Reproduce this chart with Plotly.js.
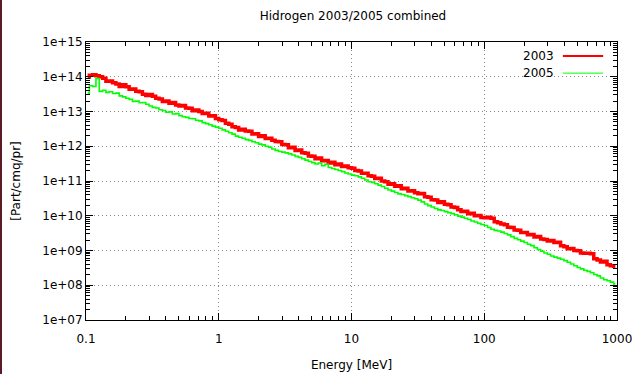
<!DOCTYPE html>
<html>
<head>
<meta charset="utf-8">
<script src="https://cdn.plot.ly/plotly-3.0.1.min.js"></script>
<style>
  html, body { margin: 0; padding: 0; background: #fff; }
  #chart { width: 636px; height: 374px; }
  #edge { position: absolute; left: 0; top: 0; width: 2px; height: 374px; background: #5a1a26; z-index: 10; }
</style>
</head>
<body>
<div id="edge"></div>
<div id="chart"></div>
<script>
// Energy bins: decade starts x per-bin multipliers (bin centres, 40 bins per decade)
const decades = [0.1, 1, 10, 100];
const binMult = [1.0292, 1.0902, 1.1548, 1.2232, 1.2957, 1.3725, 1.4538, 1.5399, 1.6312, 1.7278,
                 1.8302, 1.9387, 2.0535, 2.1752, 2.3041, 2.4406, 2.5852, 2.7384, 2.9007, 3.0726,
                 3.2546, 3.4475, 3.6517, 3.8681, 4.0973, 4.3401, 4.5973, 4.8697, 5.1582, 5.4639,
                 5.7876, 6.1306, 6.4938, 6.8786, 7.2862, 7.7179, 8.1752, 8.6596, 9.1728, 9.7163];

// log10 of flux [Part/cmq/pr]
const log2003 = [
 13.99, 14.04, 14.06, 14.03, 14.00, 13.96, 13.87, 13.88, 13.83, 13.79,
 13.72, 13.77, 13.71, 13.64, 13.65, 13.58, 13.57, 13.50, 13.46, 13.49,
 13.44, 13.38, 13.36, 13.29, 13.30, 13.24, 13.26, 13.19, 13.16, 13.17,
 13.10, 13.09, 13.02, 13.04, 13.00, 12.94, 12.95, 12.87, 12.88, 12.80,
 12.76, 12.74, 12.66, 12.63, 12.56, 12.54, 12.47, 12.49, 12.44, 12.43,
 12.35, 12.36, 12.28, 12.30, 12.22, 12.23, 12.17, 12.14, 12.13, 12.05,
 12.04, 11.96, 11.97, 11.88, 11.89, 11.81, 11.80, 11.72, 11.71, 11.64,
 11.66, 11.58, 11.59, 11.52, 11.54, 11.47, 11.49, 11.42, 11.43, 11.38,
 11.37, 11.30, 11.29, 11.22, 11.22, 11.15, 11.14, 11.07, 11.08, 11.00,
 10.98, 10.91, 10.92, 10.85, 10.86, 10.78, 10.79, 10.71, 10.72, 10.66,
 10.63, 10.64, 10.55, 10.53, 10.46, 10.45, 10.38, 10.40, 10.33, 10.32,
 10.25, 10.24, 10.17, 10.12, 10.13, 10.06, 10.07, 10.00, 10.01,  9.95,
  9.94,  9.96,  9.93,  9.83,  9.80,  9.76,  9.74,  9.67,  9.66,  9.59,
  9.58,  9.52,  9.52,  9.45,  9.46,  9.39,  9.40,  9.33,  9.32,  9.27,
  9.29,  9.23,  9.24,  9.14,  9.11,  9.05,  9.06,  9.00,  8.99,  8.93,
  8.92,  8.92,  8.91,  8.76,  8.73,  8.67,  8.69,  8.59,  8.56,  8.55
];
const log2005 = [
 13.53, 13.74, 13.72, 13.95, 13.58, 13.61, 13.55, 13.57, 13.52, 13.53,
 13.45, 13.42, 13.38, 13.35, 13.29, 13.30, 13.25, 13.26, 13.21, 13.16,
 13.12, 13.10, 13.05, 13.03, 12.98, 12.99, 12.93, 12.94, 12.88, 12.85,
 12.83, 12.80, 12.79, 12.75, 12.73, 12.68, 12.65, 12.62, 12.58, 12.55,
 12.52, 12.47, 12.43, 12.39, 12.35, 12.29, 12.26, 12.23, 12.19, 12.17,
 12.13, 12.10, 12.06, 12.04, 12.00, 11.97, 11.92, 11.88, 11.85, 11.83,
 11.81, 11.78, 11.75, 11.71, 11.68, 11.64, 11.60, 11.56, 11.53, 11.49,
 11.52, 11.44, 11.48, 11.39, 11.36, 11.33, 11.30, 11.27, 11.23, 11.20,
 11.17, 11.15, 11.12, 11.08, 11.03, 10.98, 10.96, 10.92, 10.88, 10.84,
 10.79, 10.74, 10.71, 10.67, 10.63, 10.61, 10.58, 10.55, 10.52, 10.49,
 10.45, 10.40, 10.34, 10.29, 10.25, 10.21, 10.17, 10.15, 10.12, 10.09,
 10.06, 10.03,  9.99,  9.96,  9.93,  9.89,  9.85,  9.82,  9.78,  9.75,
  9.72,  9.66,  9.61,  9.58,  9.56,  9.53,  9.49,  9.45,  9.40,  9.35,
  9.31,  9.27,  9.23,  9.18,  9.14,  9.08,  9.03,  8.98,  8.93,  8.89,
  8.84,  8.81,  8.78,  8.75,  8.71,  8.66,  8.61,  8.56,  8.51,  8.47,
  8.43,  8.40,  8.36,  8.31,  8.27,  8.21,  8.16,  8.13,  8.09,  8.04
];

const seriesNames = ['2003', '2005'];
const seriesColors = ['#ff0000', '#00ff00'];

const xTickVals = [0.1, 1, 10, 100, 1000];
const xTickText = ['0.1', '1', '10', '100', '1000'];
const yTickExp = [7, 8, 9, 10, 11, 12, 13, 14, 15];
const yTickText = ['1e+07', '1e+08', '1e+09', '1e+10', '1e+11', '1e+12', '1e+13', '1e+14', '1e+15'];
const minorMult = [2, 3, 4, 5, 6, 7, 8, 9];

const energy = [];
decades.forEach(d => binMult.forEach(m => energy.push(+(d * m).toPrecision(5))));
const y2003 = log2003.map(v => Math.pow(10, v));
const y2005 = log2005.map(v => Math.pow(10, v));

const yTickVals = yTickExp.map(e => Math.pow(10, e));
const xMinor = [];
decades.forEach(d => minorMult.forEach(m => xMinor.push(d * m)));
const yMinor = [];
yTickExp.slice(0, -1).forEach(e => minorMult.forEach(m => yMinor.push(m * Math.pow(10, e))));

const font = { family: 'DejaVu Sans, sans-serif', size: 12, color: '#000' };

const traces = [
  { x: energy, y: y2003, type: 'scatter', mode: 'lines', name: seriesNames[0],
    line: { color: seriesColors[0], width: 3.5, shape: 'hvh' } },
  { x: energy, y: y2005, type: 'scatter', mode: 'lines', name: seriesNames[1],
    line: { color: seriesColors[1], width: 1.6, shape: 'hvh' } }
];

const axisCommon = {
  showline: true, linecolor: '#000', linewidth: 1, mirror: 'ticks',
  ticks: 'inside', ticklen: 7, tickcolor: '#000', tickwidth: 1,
  showgrid: true, gridcolor: '#888888', gridwidth: 1, griddash: '1px,3px',
  zeroline: false, tickfont: font
};

const layout = {
  width: 636, height: 374,
  margin: { l: 86, r: 19, t: 42, b: 54 },
  paper_bgcolor: '#fff', plot_bgcolor: '#fff',
  showlegend: false,
  font: font,
  title: { text: 'Hidrogen 2003/2005 combined', font: font, x: 0.555, xanchor: 'center', y: 0.957, yanchor: 'middle' },
  xaxis: Object.assign({}, axisCommon, {
    type: 'log', range: [-1, 3], tickmode: 'array', tickvals: xTickVals, ticktext: xTickText,
    ticklabelstandoff: 8,
    minor: { tickmode: 'array', tickvals: xMinor, ticks: 'inside', ticklen: 4, tickcolor: '#000', showgrid: false },
    title: { text: 'Energy [MeV]', font: font, standoff: 15 }
  }),
  yaxis: Object.assign({}, axisCommon, {
    type: 'log', range: [7, 15], tickmode: 'array', tickvals: yTickVals, ticktext: yTickText,
    minor: { tickmode: 'array', tickvals: yMinor, ticks: 'inside', ticklen: 4, tickcolor: '#000', showgrid: false },
    title: { text: '[Part/cmq/pr]', font: font, standoff: 19 }
  }),
  annotations: [
    { xref: 'paper', yref: 'paper', x: 0.885, y: 0.950, xanchor: 'right', yanchor: 'middle',
      text: seriesNames[0], showarrow: false, font: font },
    { xref: 'paper', yref: 'paper', x: 0.885, y: 0.888, xanchor: 'right', yanchor: 'middle',
      text: seriesNames[1], showarrow: false, font: font }
  ],
  shapes: [
    { type: 'line', xref: 'paper', yref: 'paper', x0: 0.898, x1: 0.974, y0: 0.950, y1: 0.950,
      line: { color: seriesColors[0], width: 2 } },
    { type: 'line', xref: 'paper', yref: 'paper', x0: 0.898, x1: 0.974, y0: 0.888, y1: 0.888,
      line: { color: seriesColors[1], width: 1 } }
  ]
};

Plotly.newPlot('chart', traces, layout, { displayModeBar: false, staticPlot: true });
</script>
</body>
</html>
